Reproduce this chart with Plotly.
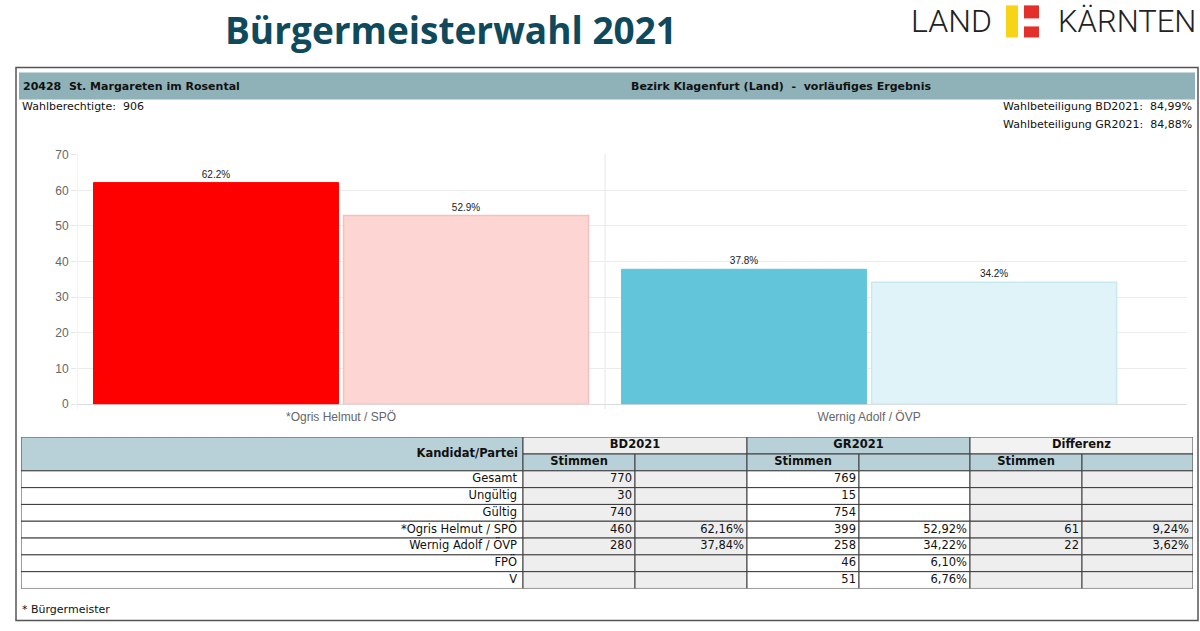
import plotly.graph_objects as go

W, H = 1200, 631
# the photographed page maps figure y to picture y as  y' = OY + SY * y
OY, SY = 6.6, 0.976

# ---------------- data ----------------
title_text = "Bürgermeisterwahl 2021"
gemeinde = "20428  St. Margareten im Rosental"
bezirk = "Bezirk Klagenfurt (Land)  -  vorläufiges Ergebnis"
wahlberechtigte = 906
beteiligung_bd = 84.99
beteiligung_gr = 84.88

candidates = ["*Ogris Helmut / SPÖ", "Wernig Adolf / ÖVP"]

row_labels = ["Gesamt", "Ungültig", "Gültig", "*Ogris Helmut / SPÖ",
              "Wernig Adolf / ÖVP", "FPÖ", "V"]
bd_votes = [770, 30, 740, 460, 280, None, None]
bd_pct = [None, None, None, 62.16, 37.84, None, None]
gr_votes = [769, 15, 754, 399, 258, 46, 51]
gr_pct = [None, None, None, 52.92, 34.22, 6.10, 6.76]
diff_votes = [None, None, None, 61, 22, None, None]
diff_pct = [None, None, None, 9.24, 3.62, None, None]

bd_bar = bd_pct[3:5]
gr_bar = gr_pct[3:5]

y_ticks = [0, 10, 20, 30, 40, 50, 60, 70]

# ---------------- helpers ----------------
def X(px):
    return px / W


def Y(py):
    return 1 - ((py - OY) / SY) / H


def fmt_pct(v):
    return "" if v is None else f"{v:.2f}".replace(".", ",") + "%"


def fmt_int(v):
    return "" if v is None else str(v)


NBSP = "\u00a0"
TFONT = "DejaVu Sans"
CFONT = "Liberation Sans"

fig = go.Figure()

# ---------------- bar chart ----------------
fig.add_trace(go.Bar(
    x=candidates, y=bd_bar, name="BD2021",
    marker=dict(color=["#fe0000", "#62c5da"],
                line=dict(color=["#fe0000", "#62c5da"], width=1)),
    texttemplate="%{y:.1f}%", textposition="outside",
    textfont=dict(family=CFONT, size=10, color="#222"),
    cliponaxis=False, hoverinfo="skip",
))
fig.add_trace(go.Bar(
    x=candidates, y=gr_bar, name="GR2021",
    marker=dict(color=["#fdd6d3", "#e0f3f8"],
                line=dict(color=["#f7c0bc", "#c9e9f1"], width=1.5)),
    texttemplate="%{y:.1f}%", textposition="outside",
    textfont=dict(family=CFONT, size=10, color="#222"),
    cliponaxis=False, hoverinfo="skip",
))

# ---------------- table ----------------
col_edges = [21, 523, 635, 747, 859, 970, 1082, 1193]
col_pad = [6, 3, 3, 3, 3, 3, 4]
n_rows = 2 + len(row_labels)

WHITE = "#ffffff"
GREY = "#eeeeee"
BLUE = "#b8d1d8"
LINE = "#3c3c3c"

shapes = []


def cell(c0, c1, r0, r1, fill):
    shapes.append(dict(type="rect", xref="x2", yref="y2",
                       x0=col_edges[c0], x1=col_edges[c1], y0=r0, y1=r1,
                       fillcolor=fill, line=dict(color=LINE, width=1),
                       layer="below"))


# header
cell(0, 1, 0, 2, BLUE)
cell(1, 3, 0, 1, GREY)
cell(3, 5, 0, 1, BLUE)
cell(5, 7, 0, 1, "#f2f2f2")
for c in range(1, 7):
    cell(c, c + 1, 1, 2, BLUE)
# body
body_fill = [WHITE, GREY, GREY, WHITE, WHITE, GREY, GREY]
for r in range(len(row_labels)):
    for c in range(7):
        cell(c, c + 1, 2 + r, 3 + r, body_fill[c])

# right aligned body text
rx, ry, rt = [], [], []
columns = [row_labels,
           [fmt_int(v) for v in bd_votes], [fmt_pct(v) for v in bd_pct],
           [fmt_int(v) for v in gr_votes], [fmt_pct(v) for v in gr_pct],
           [fmt_int(v) for v in diff_votes], [fmt_pct(v) for v in diff_pct]]
for c, col in enumerate(columns):
    for r, txt in enumerate(col):
        if txt:
            rx.append(col_edges[c + 1] - col_pad[c])
            ry.append(2.5 + r)
            rt.append(txt)
fig.add_trace(go.Scatter(
    x=rx, y=ry, text=rt, mode="text", textposition="middle left",
    textfont=dict(family=TFONT, size=11.5, color="#111"),
    xaxis="x2", yaxis="y2", hoverinfo="skip", showlegend=False,
))
fig.add_trace(go.Scatter(
    x=[col_edges[1] - 5], y=[1.0], text=["<b>Kandidat/Partei</b>"],
    mode="text", textposition="middle left",
    textfont=dict(family=TFONT, size=11.5, color="#111"),
    xaxis="x2", yaxis="y2", hoverinfo="skip", showlegend=False,
))

# centered header text
groups = ["BD2021", "GR2021", "Differenz"]
cx, cy, ct = [], [], []
for i, g in enumerate(groups):
    c = 1 + 2 * i
    cx.append((col_edges[c] + col_edges[c + 2]) / 2)
    cy.append(0.5)
    ct.append(f"<b>{g}</b>")
    cx.append((col_edges[c] + col_edges[c + 1]) / 2)
    cy.append(1.5)
    ct.append("<b>Stimmen</b>")
fig.add_trace(go.Scatter(
    x=cx, y=cy, text=ct, mode="text", textposition="middle center",
    textfont=dict(family=TFONT, size=11.5, color="#111"),
    xaxis="x2", yaxis="y2", hoverinfo="skip", showlegend=False,
))

# ---------------- frame / header shapes ----------------
shapes.append(dict(type="rect", xref="paper", yref="paper",
                   x0=X(16), x1=X(1198), y0=Y(619), y1=Y(67),
                   line=dict(color="#555", width=1.5), layer="below"))
shapes.append(dict(type="rect", xref="paper", yref="paper",
                   x0=X(19), x1=X(1195), y0=Y(99), y1=Y(72),
                   fillcolor="#8fb1b8", line=dict(width=0), layer="below"))
# logo blocks
shapes.append(dict(type="rect", xref="paper", yref="paper",
                   x0=X(1006), x1=X(1018), y0=Y(37), y1=Y(5),
                   fillcolor="#f8d417", line=dict(width=0)))
shapes.append(dict(type="rect", xref="paper", yref="paper",
                   x0=X(1024), x1=X(1039), y0=Y(18), y1=Y(5),
                   fillcolor="#e3302a", line=dict(width=0)))
shapes.append(dict(type="rect", xref="paper", yref="paper",
                   x0=X(1024), x1=X(1039), y0=Y(37), y1=Y(26),
                   fillcolor="#e3302a", line=dict(width=0)))
# category separators in the chart
for xb in [-0.5, 0.5]:
    shapes.append(dict(type="line", xref="x", yref="paper",
                       x0=xb, x1=xb, y0=Y(408), y1=Y(153),
                       line=dict(color="#e6e6e6", width=1), layer="below"))


def ann(text, px, py, xanchor, size=11, family=TFONT, color="#111", weight=None):
    f = dict(family=family, size=size, color=color)
    if weight is not None:
        f["weight"] = weight
    return dict(text=text, x=X(px), y=Y(py), xref="paper", yref="paper",
                xanchor=xanchor, yanchor="middle", showarrow=False, font=f)


annotations = [
    ann(f"<b>{title_text}</b>", 451, 29, "center", size=37,
        family="Open Sans", color="#0f4a5c"),
    ann("LAND", 909, 21, "left", size=32, family="Roboto", color="#222", weight=300),
    ann("KÄRNTEN", 1056, 21, "left", size=31, family="Roboto", color="#222", weight=300),
    ann(f"<b>{gemeinde.replace('  ', ' ' + NBSP)}</b>", 21, 86, "left"),
    ann(f"<b>{bezirk.replace('  ', ' ' + NBSP)}</b>", 629, 86, "left"),
    ann(f"Wahlberechtigte:{NBSP} {wahlberechtigte}", 20, 106, "left"),
    ann(f"Wahlbeteiligung BD2021:{NBSP} {fmt_pct(beteiligung_bd)}", 1194, 106, "right"),
    ann(f"Wahlbeteiligung GR2021:{NBSP} {fmt_pct(beteiligung_gr)}", 1194, 124, "right"),
    ann("* Bürgermeister", 20, 608, "left"),
]

fig.update_layout(
    width=W, height=H,
    margin=dict(l=0, r=0, t=0, b=0),
    paper_bgcolor="white", plot_bgcolor="rgba(0,0,0,0)",
    showlegend=False,
    barmode="group", bargap=0.053, bargroupgap=0.02,
    shapes=shapes, annotations=annotations,
    xaxis=dict(domain=[X(77), X(1187)], range=[-0.5, 1.602], type="category",
               showgrid=False, zeroline=False, showline=False, ticks="",
               ticklabelstandoff=4,
               tickfont=dict(family=CFONT, size=12, color="#666"),
               fixedrange=True),
    yaxis=dict(domain=[Y(403), Y(154)], range=[0, 70], tickvals=y_ticks,
               showgrid=True, gridcolor="#ececec", gridwidth=1,
               zeroline=True, zerolinecolor="#dcdcdc", zerolinewidth=1,
               showline=False, ticks="outside", ticklen=5, tickcolor="#e6e6e6",
               tickfont=dict(family=CFONT, size=12, color="#666"),
               fixedrange=True),
    xaxis2=dict(domain=[X(21), X(1193)], range=[21, 1193], anchor="y2",
                visible=False, fixedrange=True),
    yaxis2=dict(domain=[Y(587), Y(436)], range=[n_rows, 0], anchor="x2",
                visible=False, fixedrange=True),
)

fig.write_html("out.html",
               config={"displayModeBar": False, "staticPlot": True},
               post_script="document.body.style.margin='0';"
                           "document.documentElement.style.overflow='hidden';")
